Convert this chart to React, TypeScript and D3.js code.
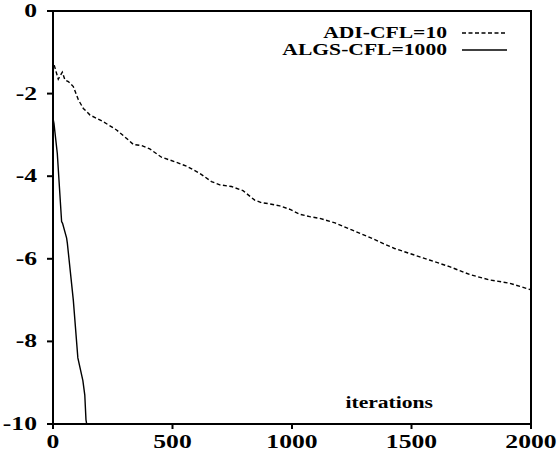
import React from "react";
import * as d3 from "d3";

const adiIter = [5, 22, 39, 50, 64, 85, 106, 127, 155, 176, 210, 266, 315, 336, 371, 405, 454, 510, 560, 614, 663, 698, 747, 795, 844, 872, 907, 949, 990, 1032, 1074, 1116, 1180, 1250, 1325, 1366, 1429, 1492, 1575, 1659, 1743, 1826, 1910, 2000];
const adiRes = [-1.31, -1.65, -1.48, -1.67, -1.71, -1.83, -2.15, -2.36, -2.52, -2.58, -2.68, -2.88, -3.12, -3.23, -3.26, -3.34, -3.54, -3.65, -3.76, -3.93, -4.13, -4.21, -4.25, -4.35, -4.58, -4.64, -4.67, -4.72, -4.8, -4.92, -4.98, -5.02, -5.13, -5.3, -5.48, -5.59, -5.75, -5.87, -6.03, -6.19, -6.38, -6.51, -6.59, -6.75];

const algsIter = [0, 4, 18, 36, 40, 57, 60, 85, 104, 125, 133, 138, 141];
const algsRes = [-2.6, -2.72, -3.45, -5.1, -5.14, -5.5, -5.62, -7.0, -8.4, -8.95, -9.3, -9.9, -10];

const xTicks = [0, 500, 1000, 1500, 2000];
const yTicks = [0, -2, -4, -6, -8, -10];
const legendLabels = ["ADI-CFL=10", "ALGS-CFL=1000"];
const xLabel = "iterations";

const W = 559, H = 456;
const L = 53, R = 531, T = 11, B = 424;
const SX = 1.35;
const FONT = "'Liberation Serif', 'Times New Roman', serif";

function SText({ x, y, size, anchor, baseline, children }: any) {
  return (
    <text
      transform={`translate(${x},${y}) scale(${SX},1)`}
      fontFamily={FONT}
      fontWeight="bold"
      fontSize={size}
      textAnchor={anchor || "start"}
      dominantBaseline={baseline || "auto"}
      fill="#000"
    >
      {children}
    </text>
  );
}

export default function App() {
  const x = d3.scaleLinear().domain([0, 2000]).range([L, R]);
  const y = d3.scaleLinear().domain([-10, 0]).range([B, T]);
  const line = d3.line<[number, number]>().x((d) => x(d[0])).y((d) => y(d[1]));
  const adi = line(adiIter.map((v, i) => [v, adiRes[i]] as [number, number])) || "";
  const algs = line(algsIter.map((v, i) => [v, algsRes[i]] as [number, number])) || "";

  return (
    <svg width={W} height={H} style={{ position: "absolute", left: 0, top: 0, background: "#fff" }}>
      <rect x={0} y={0} width={W} height={H} fill="#fff" />
      <path d={adi} fill="none" stroke="#000" strokeWidth={1.4} strokeDasharray="4,2.5" />
      <path d={algs} fill="none" stroke="#000" strokeWidth={1.4} />
      {/* frame */}
      <rect x={L} y={T} width={R - L} height={B - T} fill="none" stroke="#000" strokeWidth={2} />
      {yTicks.map((t) => (
        <g key={"y" + t}>
          <line x1={L - 6} x2={L} y1={y(t)} y2={y(t)} stroke="#000" strokeWidth={2} />
          <SText x={37} y={y(t) + 6} size={19} anchor="end">{String(t)}</SText>
        </g>
      ))}
      {xTicks.map((t) => (
        <g key={"x" + t}>
          <line x1={x(t)} x2={x(t)} y1={B} y2={B + 5} stroke="#000" strokeWidth={2} />
          <SText x={x(t)} y={448} size={19} anchor="middle">{String(t)}</SText>
        </g>
      ))}
      <SText x={447} y={38} size={16} anchor="end">{legendLabels[0]}</SText>
      <SText x={447} y={55} size={16} anchor="end">{legendLabels[1]}</SText>
      <line x1={462} x2={507} y1={33} y2={33} stroke="#000" strokeWidth={1.4} strokeDasharray="4,2.5" />
      <line x1={462} x2={507} y1={50} y2={50} stroke="#000" strokeWidth={1.4} />
      <SText x={433} y={408} size={16} anchor="end">{xLabel}</SText>
    </svg>
  );
}
